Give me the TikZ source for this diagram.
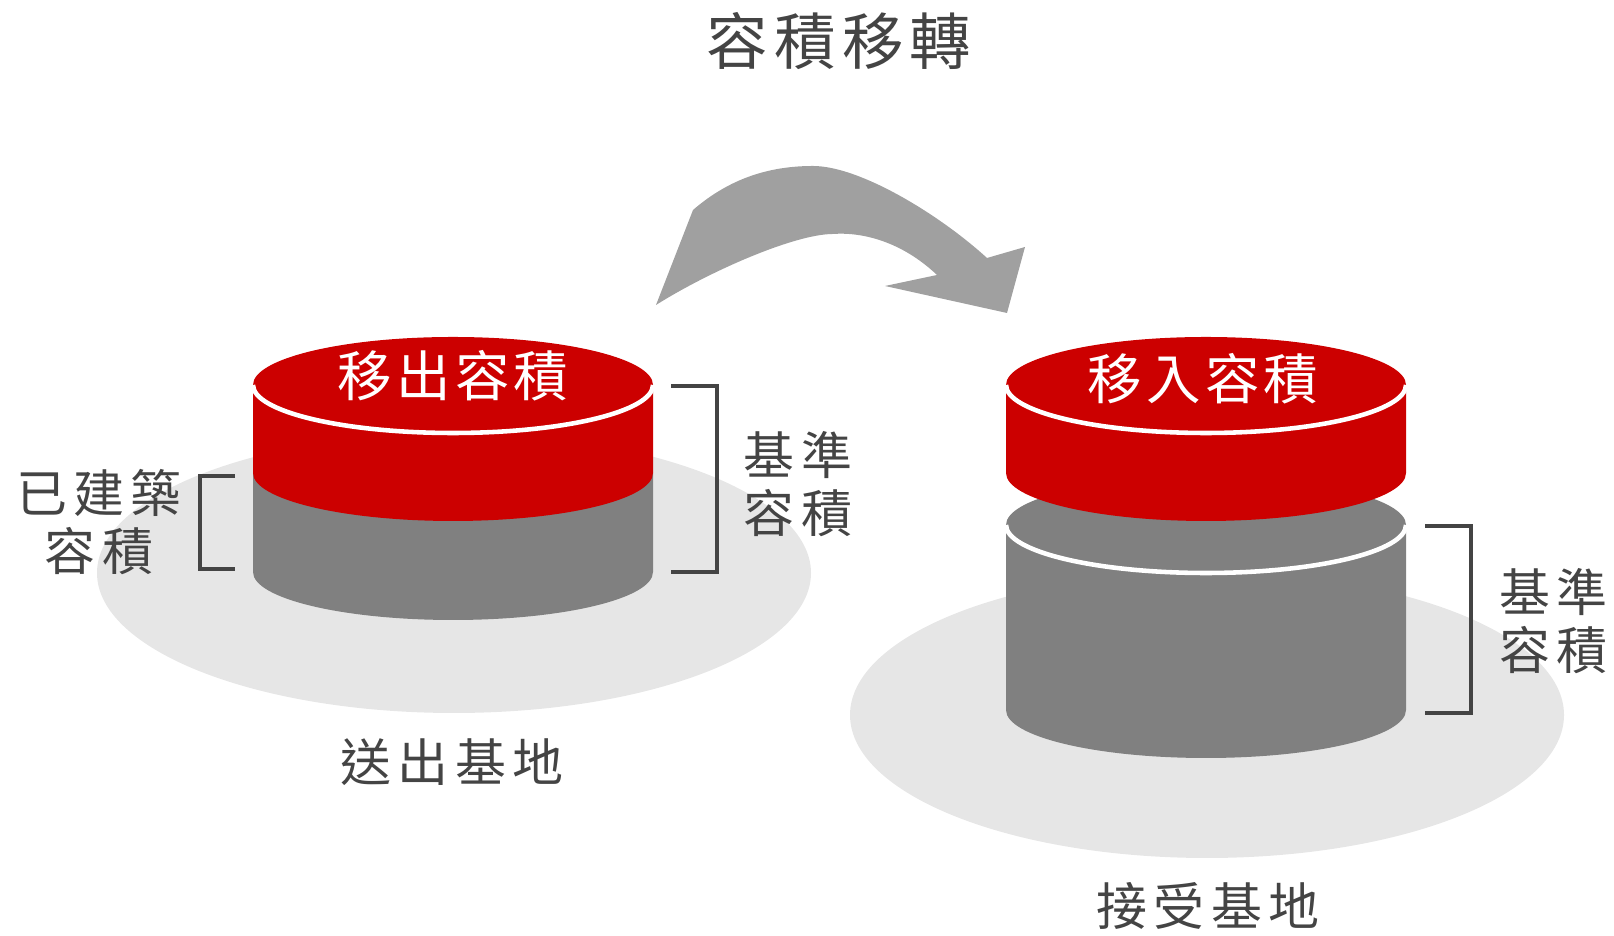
\documentclass[tikz,border=0pt]{standalone}
\usepackage{fontspec}
\usepackage{xcolor}
\usepackage{tikz}

\newfontfamily\titlefont[LetterSpace=10]{Noto Sans CJK TC}
\newfontfamily\labelfont[LetterSpace=12]{Noto Sans CJK TC}
\newfontfamily\capfont[LetterSpace=8]{Noto Sans CJK TC}

\definecolor{cylred}{HTML}{CC0000}
\definecolor{cylgray}{HTML}{808080}
\definecolor{floorgray}{HTML}{E6E6E6}
\definecolor{arrowgray}{HTML}{A0A0A0}
\definecolor{labelgray}{HTML}{444444}

\begin{document}
\begin{tikzpicture}[
  every node/.style={inner sep=0pt},
  side label/.style={text=labelgray, align=center, font=\labelfont\fontsize{14.5}{16.6}\selectfont},
  cap label/.style={text=white, font=\capfont\fontsize{15.5}{18}\selectfont},
  rim/.style={white, line width=1.3pt},
  bracket/.style={labelgray, line width=0.9pt},
  lens/.style={x radius=2cm, y radius=0.48cm}
]
  \useasboundingbox (0,0) rectangle (16.14,9.36);

  % title
  \node (title) at (8.39,8.95) {\color{labelgray}\titlefont\fontsize{17.5}{20}\selectfont 容積移轉};

  % floor under both sites
  \fill[floorgray] (4.54,3.63) ellipse [x radius=3.57cm, y radius=1.40cm];
  \fill[floorgray] (12.07,2.21) ellipse [x radius=3.57cm, y radius=1.43cm];

  % sending site: built floor area, red part moves away
  \fill[cylgray] (2.53,4.63) -- (2.53,3.64) arc[start angle=180, end angle=360, lens] -- (6.53,4.63) -- cycle;
  \fill[cylred] (2.53,5.51) -- (2.53,4.63) arc[start angle=180, end angle=360, lens] -- (6.53,5.51) -- cycle;
  \fill[cylred] (4.53,5.51) ellipse [lens];
  \draw[rim] (2.53,5.51) arc[start angle=180, end angle=360, lens];

  % receiving site: base volume with the red part stacked on
  \fill[cylgray] (10.06,4.11) -- (10.06,2.26) arc[start angle=180, end angle=360, lens] -- (14.06,4.11) -- cycle;
  \fill[cylgray] (12.06,4.11) ellipse [lens];
  \draw[rim] (10.06,4.11) arc[start angle=180, end angle=360, lens];
  \fill[cylred] (10.06,5.51) -- (10.06,4.63) arc[start angle=180, end angle=360, lens] -- (14.06,5.51) -- cycle;
  \fill[cylred] (12.06,5.51) ellipse [lens];
  \draw[rim] (10.06,5.51) arc[start angle=180, end angle=360, lens];

  \node[cap label] (moveout) at (4.53,5.60) {移出容積};
  \node[cap label] (movein)  at (12.03,5.57) {移入容積};

  % curved transfer arrow
  \fill[arrowgray] (6.56,6.31) -- (6.93,7.26)
    .. controls (7.30,7.58) and (7.70,7.70) .. (8.13,7.70)
    .. controls (8.60,7.70) and (9.40,7.21) .. (9.87,6.78)
    -- (10.25,6.89) -- (10.07,6.23) -- (8.85,6.50) -- (9.37,6.61)
    .. controls (9.00,6.96) and (8.60,7.04) .. (8.33,7.02)
    .. controls (7.95,7.02) and (7.10,6.65) .. (6.56,6.31) -- cycle;

  % brackets and their labels
  \draw[bracket] (2.35,4.60) -- (2.00,4.60) -- (2.00,3.67) -- (2.35,3.67);
  \node[side label] (built) at (0.99,4.14) {已建築\\容積};

  \draw[bracket] (6.71,5.50) -- (7.17,5.50) -- (7.17,3.64) -- (6.71,3.64);
  \node[side label] (baseL) at (7.98,4.52) {基準\\容積};

  \draw[bracket] (14.25,4.10) -- (14.71,4.10) -- (14.71,2.23) -- (14.25,2.23);
  \node[side label] (baseR) at (15.53,3.15) {基準\\容積};

  % site names
  \node[side label] (sending)   at (4.52,1.74) {送出基地};
  \node[side label] (receiving) at (12.08,0.30) {接受基地};
\end{tikzpicture}
\end{document}
